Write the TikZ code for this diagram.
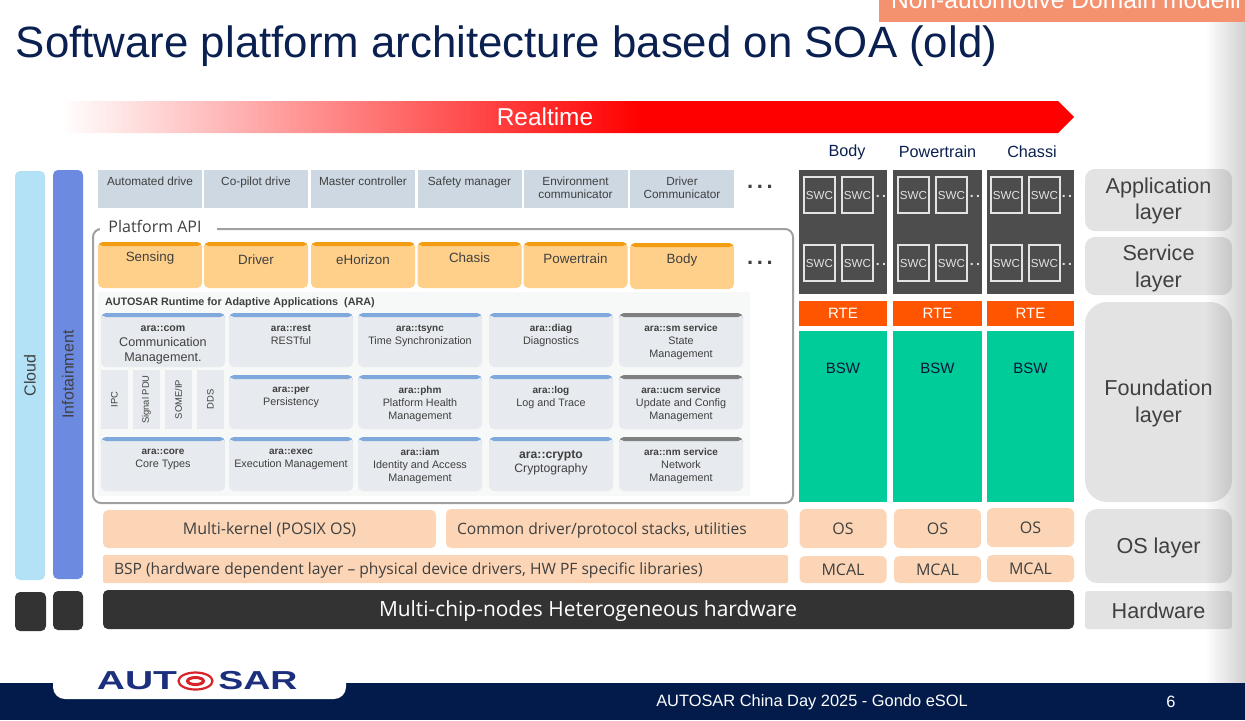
\documentclass[tikz,border=0pt]{standalone}
\usepackage{fontspec}
\setmainfont{Liberation Sans}
\newfontfamily\opensans{Open Sans}
\usetikzlibrary{fadings}

\definecolor{navy}{HTML}{0A2050}
\definecolor{footerblue}{HTML}{021B4A}
\definecolor{tagorange}{HTML}{F4916F}
\definecolor{cloudblue}{HTML}{B3E2F7}
\definecolor{infoblue}{HTML}{6B8AE0}
\definecolor{hwdark}{HTML}{333333}
\definecolor{appblue}{HTML}{CDD8E3}
\definecolor{apiorange}{HTML}{FFD08A}
\definecolor{apitop}{HTML}{F39C12}
\definecolor{framegray}{HTML}{A0A0A0}
\definecolor{arabg}{HTML}{F7F8F8}
\definecolor{cardgray}{HTML}{E7EAEE}
\definecolor{bandblue}{HTML}{7FA8DC}
\definecolor{bandgray}{HTML}{7F7F7F}
\definecolor{swcgray}{HTML}{4D4D4D}
\definecolor{rteorange}{HTML}{FF5500}
\definecolor{bswgreen}{HTML}{00CC99}
\definecolor{peach}{HTML}{FBD5B5}
\definecolor{layergray}{HTML}{E3E3E3}
\definecolor{txtgray}{HTML}{404040}
\definecolor{logoblue}{HTML}{1C2F7C}
\definecolor{logored}{HTML}{D8232A}

\newcommand{\fsz}[2]{\fontsize{#1}{#2}\selectfont}
\pgfdeclarehorizontalshading{realtimefade}{100bp}{color(0bp)=(white); color(25bp)=(white); color(53.6bp)=(red); color(100bp)=(red)}

\tikzset{
  wh/.style 2 args={minimum width=#1*0.5pt, minimum height=#2*0.5pt},
  plain/.style={inner sep=0pt, outer sep=0pt, text=txtgray, align=center},
  block/.style={plain, fill=#1, rounded corners=2.5pt},
  flat/.style={plain, fill=#1},
  topband/.style={path picture={\fill[#1] (path picture bounding box.north west)
      rectangle ([yshift=-2pt]path picture bounding box.north east);}},
  apibox/.style={block=apiorange, wh={104}{46}, topband=apitop},
  card/.style={block=cardgray, wh={124}{54}, topband=#1},
  cardtxt/.style={plain, anchor=north, font=\fsz{5.4}{6.5}},
  swc/.style={plain, draw=layergray, line width=0.7pt, wh={31}{36}, text=layergray, font=\fsz{5.8}{7}},
  peachbox/.style={block=peach},
  peachtxt/.style={plain, font=\opensans\fsz{#1}{10}},
}

\begin{document}
\begin{tikzpicture}[x=0.5pt, y=-0.5pt]
  \useasboundingbox (0,0) rectangle (1245,720);

  \fill[footerblue] (0,683) rectangle (1245,720);
  \fill[white, rounded corners=6pt] (53,655) rectangle (346,699);
  \node[plain, text=logoblue, font=\bfseries\fsz{13}{15}] (logoa) at (137,681) {\scalebox{1.5}[1]{AUT}};
  \node[plain, text=logoblue, font=\bfseries\fsz{13}{15}] (logob) at (258,681) {\scalebox{1.44}[1]{SAR}};
  \draw[logored, line width=1.1pt] (195.5,681) ellipse (17 and 8.5);
  \draw[logored, line width=1.5pt] (195.5,681) ellipse (8 and 3.5);
  \node[plain, text=white, font=\fsz{8.2}{10}] (event) at (812,702) {AUTOSAR China Day 2025 - Gondo eSOL};
  \node[plain, text=white, font=\fsz{8.2}{10}] (pageno) at (1171,702) {6};

  \node[plain, anchor=base west, text=navy, font=\fsz{21.9}{26}] (title) at (16,57) {Software platform architecture based on SOA (old)};

  \shade[shading=realtimefade] (60,101) -- (1058,101) -- (1074,117) -- (1058,133) -- (60,133) -- cycle;
  \node[plain, text=white, font=\fsz{12.2}{14}] (realtime) at (545,117) {Realtime};

  \node[block=cloudblue, wh={30}{409}] (cloud) at (30,375.5) {};
  \node[block=infoblue, wh={30}{409}]  (info)  at (68,374.5) {};
  \node[plain, rotate=90, font=\fsz{8}{10}]  (cloudtxt) at (cloud) {Cloud};
  \node[plain, rotate=90, font=\fsz{8}{10}]  (infotxt)  at (info)  {Infotainment};
  \node[block=hwdark, wh={31}{39}] (hwa) at (30.5,611.5) {};
  \node[block=hwdark, wh={30}{39}] (hwb) at (68,610.5) {};

  \foreach \nm/\xc/\txt in {auto/150/Automated drive, copilot/256/Co-pilot drive, master/363/Master controller,
      safety/469.5/Safety manager, envcom/575.5/Environment\\communicator, drvcom/682/Driver\\Communicator}{
    \node[flat=appblue, wh={104}{38}] (\nm) at (\xc,189) {};
    \node[plain, anchor=north, font=\fsz{5.9}{6.6}] (\nm txt) at ([yshift=-3.6pt]\nm.north) {\txt};
  }
  \node[plain, font=\bfseries\fsz{11}{12}] (appdots) at (760,187) {.\,.\,.};

  \draw[framegray, line width=1pt, rounded corners=4pt] (217,229) -- (793,229) -- (793,503) -- (93,503) -- (93,229) -- (107,229);
  \fill[white] (100,222) rectangle (217,236);
  \node[plain, font=\opensans\fsz{8}{10}] (apititle) at (155,226) {Platform API};

  \foreach \nm/\xc/\yc/\ty/\txt in {sensing/150/265/258/Sensing, driver/256/265/260/Driver, ehorizon/363/265/260/eHorizon,
      chasis/469.5/265/258/Chasis, powertrain/575.5/265/259/Powertrain, bodyapi/682/266/260/Body}{
    \node[apibox] (\nm) at (\xc,\yc) {};
    \node[plain, font=\fsz{6.7}{8}] (\nm txt) at (\xc,\ty) {\txt};
  }
  \node[plain, font=\bfseries\fsz{11}{12}] (apidots) at (760,263) {.\,.\,.};

  \node[flat=arabg, wh={652}{204}] (arabg) at (424,394) {};
  \node[plain, anchor=west, font=\bfseries\fsz{5.4}{7}] (aratitle) at (105,303) {AUTOSAR Runtime for Adaptive Applications\ \ (ARA)};

  \foreach \nm/\xc/\yc/\bandc/\txt in {
      rest/291/340/bandblue/{\textbf{\fsz{5}{6.5}ara::rest}\\RESTful},
      tsync/420/340/bandblue/{\textbf{\fsz{5}{6.5}ara::tsync}\\Time Synchronization},
      diag/551/340/bandblue/{\textbf{\fsz{5}{6.5}ara::diag}\\Diagnostics},
      sm/681/340/bandgray/{\textbf{\fsz{5}{6.5}ara::sm service}\\State\\Management},
      per/291/402/bandblue/{\textbf{\fsz{5}{6.5}ara::per}\\Persistency},
      phm/420/402/bandblue/{\textbf{\fsz{5}{6.5}ara::phm}\\Platform Health\\Management},
      log/551/402/bandblue/{\textbf{\fsz{5}{6.5}ara::log}\\Log and Trace},
      ucm/681/402/bandgray/{\textbf{\fsz{5}{6.5}ara::ucm service}\\Update and Config\\Management},
      core/163/464/bandblue/{\textbf{\fsz{5}{6.5}ara::core}\\Core Types},
      exec/291/464/bandblue/{\textbf{\fsz{5}{6.5}ara::exec}\\Execution Management},
      iam/420/464/bandblue/{\textbf{\fsz{5}{6.5}ara::iam}\\Identity and Access\\Management},
      nm/681/464/bandgray/{\textbf{\fsz{5}{6.5}ara::nm service}\\Network\\Management}}{
    \node[card=\bandc] (\nm) at (\xc,\yc) {};
    \node[cardtxt] (\nm txt) at ([yshift=-5.8pt]\nm.north) {\txt};
  }
  \node[card=bandblue] (com) at (163,340) {};
  \node[cardtxt, font=\fsz{6.3}{7.4}] (comtxt) at ([yshift=-6.6pt]com.north) {\textbf{\fsz{5.3}{7.4}ara::com}\\Communication\\Management.};
  \node[card=bandblue] (crypto) at (551,464) {};
  \node[cardtxt, font=\fsz{6.1}{7}] (cryptotxt) at ([yshift=-6.6pt]crypto.north) {\textbf{ara::crypto}\\Cryptography};

  \foreach \nm/\xc/\txt in {ipc/114.5/IPC, pdu/146.5/Signal PDU, someip/178.5/{SOME/IP}, dds/210.5/DDS}{
    \node[flat=cardgray, wh={27}{59}] (\nm) at (\xc,399.5) {};
    \node[plain, rotate=90, font=\fsz{4.7}{6}] (\nm txt) at (\nm) {\txt};
  }

  \node[peachbox, wh={333}{38}] (kernel) at (269.5,529) {};
  \node[peachbox, wh={342}{39}] (stacks) at (617,528.5) {};
  \node[peachbox, wh={685}{28}, rounded corners=1pt] (bsp) at (445.5,569) {};
  \node[peachtxt=8] (kerneltxt) at (269.5,530) {Multi-kernel (POSIX OS)};
  \node[peachtxt=7.8, anchor=west] (stackstxt) at (457,530) {Common driver/protocol stacks, utilities};
  \node[peachtxt=7.8, anchor=west] (bsptxt) at (114,570.5) {BSP (hardware dependent layer – physical device drivers, HW PF specific libraries)};
  \node[block=hwdark, wh={971}{39}] (chip) at (588.5,609.5) {};
  \node[peachtxt=10.45, text=white] (chiptxt) at (588,611) {Multi-chip-nodes Heterogeneous hardware};

  \foreach \nm/\xc/\wid/\osy/\mcy/\tx/\ttl in {body/843/88/528.5/569.5/847/Body, power/937.5/89/528.5/569.5/937.5/Powertrain, chassi/1030.5/87/527.5/568.5/1032/Chassi}{
    \node[plain, text=navy, font=\fsz{8.1}{10}] (\nm ttl) at (\tx,152) {\ttl};
    \node[flat=swcgray, wh={\wid}{124}] (\nm app) at (\xc,232) {};
    \node[flat=rteorange, wh={\wid}{25}, text=white, font=\fsz{7.5}{9}] (\nm rte) at (\xc,313.5) {RTE};
    \node[flat=bswgreen, wh={\wid}{171}] (\nm bsw) at (\xc,416.5) {};
    \node[plain, text=navy!70!black, font=\fsz{7.5}{9}] (\nm bswtxt) at (\xc,368) {BSW};
    \node[block=peach, wh={87}{39}, rounded corners=3pt, font=\opensans\fsz{8}{10}] (\nm os) at (\xc,\osy) {OS};
    \node[block=peach, wh={87}{27}, font=\opensans\fsz{8}{10}] (\nm mcal) at (\xc,\mcy) {MCAL};
  }
  \foreach \col/\xa/\xb/\xd in {b/819.5/857.5/881, p/913.5/951.5/975, c/1006.5/1044.5/1067}{
    \foreach \row/\yc in {u/195, l/263}{
      \node[swc] (swc\col\row a) at (\xa,\yc) {SWC};
      \node[swc] (swc\col\row b) at (\xb,\yc) {SWC};
      \node[plain, text=layergray, font=\bfseries\fsz{7}{8}] (dots\col\row) at (\xd,\yc+1) {.\,.};
    }
  }

  \foreach \nm/\yc/\hgt/\rad/\ty/\txt in {applayer/200/62/5pt/200/Application\\layer, svclayer/266/58/5pt/267.5/Service\\layer,
      fndlayer/402/200/11pt/402.5/Foundation\\layer, oslayer/546/74/6pt/547/OS layer, hwlayer/610/38/1.5pt/610/Hardware}{
    \node[block=layergray, wh={147}{\hgt}, rounded corners=\rad] (\nm) at (1158.5,\yc) {};
    \node[plain, font=\fsz{10.8}{13.2}] (\nm txt) at (1158.5,\ty+1) {\txt};
  }

  \fill[black, opacity=0.18, path fading=west] (1205,22) rectangle (1245,683);

  \fill[tagorange] (879,0) rectangle (1245,22);
  \begin{scope}
    \clip (879,0) rectangle (1245,22);
    \node[plain, anchor=base west, text=white, font=\fsz{12.3}{14}] (domain) at (891,8) {Non-automotive Domain modelli};
  \end{scope}
\end{tikzpicture}
\end{document}
